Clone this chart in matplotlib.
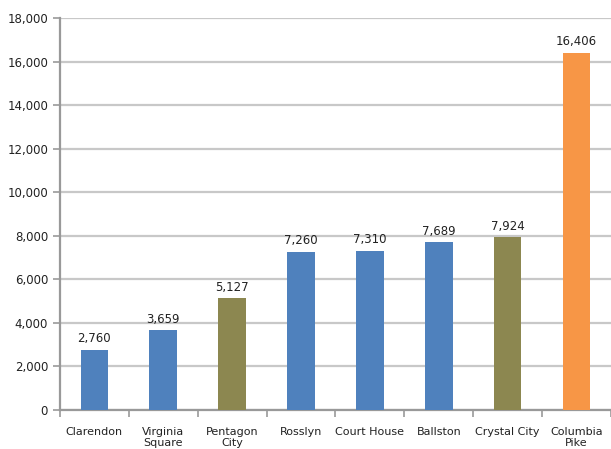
import matplotlib.pyplot as plt
import numpy as np

categories = ["Clarendon", "Virginia\nSquare", "Pentagon\nCity", "Rosslyn",
              "Court House", "Ballston", "Crystal City", "Columbia\nPike"]
values = [2760, 3659, 5127, 7260, 7310, 7689, 7924, 16406]
colors = ["#4F81BD", "#4F81BD", "#8C8750", "#4F81BD",
          "#4F81BD", "#4F81BD", "#8C8750", "#F79646"]

fig = plt.figure(figsize=(6.11, 4.49), dpi=100)
ax = fig.add_axes([0.098, 0.087, 0.902, 0.873])

x = np.arange(len(categories))
bars = ax.bar(x, values, width=0.4, color=colors, zorder=3)

for xi, v in zip(x, values):
    ax.text(xi, v + 200, f"{v:,}", ha="center", va="bottom", fontsize=8.5, color="#222222")

ax.set_xlim(-0.5, len(categories) - 0.5)
ax.set_ylim(0, 18000)
ax.set_yticks(np.arange(0, 18001, 2000))
ax.set_yticklabels([f"{t:,}" for t in range(0, 18001, 2000)], fontsize=8.5, color="#222222")
ax.yaxis.grid(True, color="#c8c8c8", linewidth=1.6, zorder=0)

ax.set_xticks(np.arange(-0.5, len(categories), 1))
ax.set_xticklabels([])
ax.set_xticks(x, minor=True)
ax.set_xticklabels(categories, minor=True, fontsize=8, color="#222222")
ax.tick_params(axis="x", which="minor", length=0, pad=12)
ax.tick_params(axis="x", which="major", length=5, color="#999999", width=1.2)
ax.tick_params(axis="y", length=5, color="#999999", width=1.2)

for s in ["top", "right"]:
    ax.spines[s].set_visible(False)
for s in ["left", "bottom"]:
    ax.spines[s].set_color("#999999")
    ax.spines[s].set_linewidth(1.6)

fig.savefig("out.png", dpi=100)
